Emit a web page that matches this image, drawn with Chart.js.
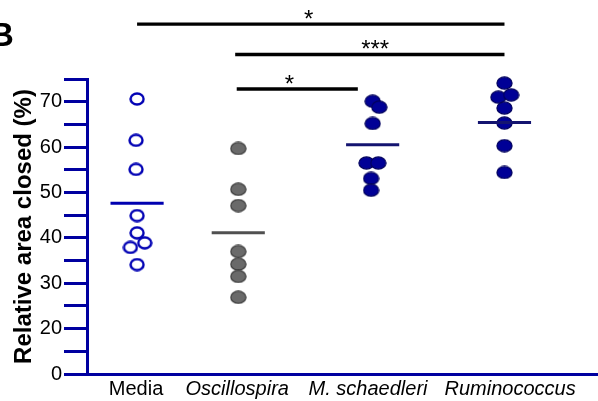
<!DOCTYPE html>
<html><head><meta charset="utf-8">
<script src="https://cdn.jsdelivr.net/npm/chart.js@4"></script>
<style>html,body{margin:0;padding:0;background:#fff}</style>
</head><body>
<canvas id="c" width="598" height="401"></canvas>
<script>
const categories = ['Media', 'Oscillospira', 'M. schaedleri', 'Ruminococcus'];
const categoryX = [9.8, 29.6, 55.9, 81.7];
const labelX = [9.6, 29.4, 55.0, 82.8];
const mediaValues = [70.6, 61.5, 55.1, 44.9, 41.1, 37.9, 38.9, 34.1];
const mediaJitter = [0, -0.2, -0.2, 0, 0, -1.3, 1.5, 0];
const oscillospiraValues = [59.7, 50.7, 47.1, 37.0, 34.2, 31.5, 26.9];
const oscillospiraJitter = [0, 0, 0, 0, 0, 0, 0];
const schaedleriValues = [70.1, 68.8, 65.2, 56.5, 56.5, 53.1, 50.5];
const schaedleriJitter = [0, 1.3, 0, -1.2, 1.1, -0.3, -0.3];
const ruminococcusValues = [74.1, 71.0, 71.5, 68.6, 65.3, 60.3, 54.4];
const ruminococcusJitter = [0, -1.2, 1.3, 0, 0, 0, 0];
const meanValues = [47.6, 41.1, 60.5, 65.4];
const bracketFromX = [9.8, 29.0, 29.3];
const bracketToX = [81.7, 81.7, 53.0];
const bracketY = [87.1, 80.4, 72.8];
const bracketLabelX = [43.4, 56.4, 39.6];
const bracketLabels = ['*', '***', '*'];
const yTickValues = [10, 15, 20, 25, 30, 35, 40, 45, 50, 55, 60, 65, 70, 75];
const yTickLabels = ['0', '', '20', '', '30', '', '40', '', '50', '', '60', '', '70', ''];

const FONT = "'Liberation Sans', Arial, sans-serif";
const NAVY = '#0000a0';

function ellipse(w, h, fill, stroke, lw) {
  const c = document.createElement('canvas');
  c.width = w; c.height = h;
  const g = c.getContext('2d');
  g.beginPath();
  g.ellipse(w / 2, h / 2, w / 2 - lw / 2 - 0.3, h / 2 - lw / 2 - 0.3, 0, 0, Math.PI * 2);
  if (fill) { g.fillStyle = fill; g.fill(); }
  if (stroke) { g.strokeStyle = stroke; g.lineWidth = lw; g.stroke(); }
  return c;
}
const openBlue = ellipse(16, 14, null, '#0000b4', 2.4);
const grayDot = ellipse(17, 14, '#6a6a6a', '#3a3a3a', 1.2);
const navyDot = ellipse(17, 14, '#000096', '#00005c', 1.2);

function pts(cx, vals, jit) {
  return vals.map((v, i) => ({ x: cx + jit[i], y: v }));
}

const HALF = 5.2;
const meanColors = ['#0000b0', '#505050', '#141470', '#141470'];
const datasets = [];
meanValues.forEach((m, i) => {
  datasets.push({
    type: 'line', data: [{ x: categoryX[i] - HALF, y: m }, { x: categoryX[i] + HALF, y: m }],
    borderColor: meanColors[i], borderWidth: 3, pointRadius: 0, order: 0, clip: false
  });
});
const groups = [
  [mediaValues, mediaJitter, openBlue],
  [oscillospiraValues, oscillospiraJitter, grayDot],
  [schaedleriValues, schaedleriJitter, navyDot],
  [ruminococcusValues, ruminococcusJitter, navyDot]
];
groups.forEach((g, i) => {
  datasets.push({
    type: 'scatter', data: pts(categoryX[i], g[0], g[1]),
    pointStyle: g[2], pointRadius: 7, order: 1, clip: false
  });
});
bracketY.forEach((y, i) => {
  datasets.push({
    type: 'line', data: [{ x: bracketFromX[i], y: y }, { x: bracketToX[i], y: y }],
    borderColor: '#000', borderWidth: 3.3, pointRadius: 0, order: 0, clip: false
  });
});

const annot = {
  id: 'annot',
  afterDraw(chart) {
    const ctx = chart.ctx, xs = chart.scales.x, ys = chart.scales.y;
    ctx.save();
    ctx.fillStyle = '#000';
    ctx.textAlign = 'center';
    ctx.textBaseline = 'alphabetic';
    ctx.font = "24px " + FONT;
    bracketLabels.forEach((t, i) => {
      const x = xs.getPixelForValue(bracketLabelX[i]);
      const y = ys.getPixelForValue(bracketY[i]);
      ctx.fillText(t, x, y + 3);
    });
    ctx.textAlign = 'left';
    ctx.font = "bold 33px " + FONT;
    ctx.fillText('B', -10, 46);
    ctx.restore();
  }
};

new Chart(document.getElementById('c'), {
  type: 'scatter',
  data: { datasets },
  options: {
    responsive: false, devicePixelRatio: 1, animation: false,
    layout: { autoPadding: false, padding: { top: 79, right: 0, left: 0, bottom: 0 } },
    plugins: { legend: { display: false }, tooltip: { enabled: false } },
    scales: {
      x: {
        type: 'linear', min: 0, max: 100,
        grid: { display: false, drawTicks: false },
        border: { display: true, color: NAVY, width: 3 },
        afterBuildTicks: s => { s.ticks = labelX.map(v => ({ value: v })); },
        afterFit: s => { s.height = 27; s.paddingLeft = 0; s.paddingRight = 0; },
        ticks: {
          padding: 3, color: '#000', maxRotation: 0, autoSkip: false,
          font: ctx => ({ family: FONT, size: 20, style: ctx.index === 0 ? 'normal' : 'italic' }),
          callback: (v, i) => categories[i]
        }
      },
      y: {
        type: 'linear', min: 10, max: 75,
        grid: { drawOnChartArea: false, drawTicks: true, tickLength: 23, color: NAVY, lineWidth: 3 },
        border: { display: true, color: NAVY, width: 3 },
        afterBuildTicks: s => { s.ticks = yTickValues.map(v => ({ value: v })); },
        afterFit: s => { s.width = 87; s.paddingTop = 0; s.paddingBottom = 0; },
        ticks: {
          padding: 2, color: '#000', autoSkip: false,
          font: { family: FONT, size: 20 },
          callback: (v, i) => yTickLabels[i]
        },
        title: {
          display: true, text: 'Relative area closed (%)', color: '#000',
          font: { family: FONT, size: 24, weight: 'bold' },
          padding: { top: 10, bottom: 0 }
        }
      }
    }
  },
  plugins: [annot]
});
</script>
</body></html>
